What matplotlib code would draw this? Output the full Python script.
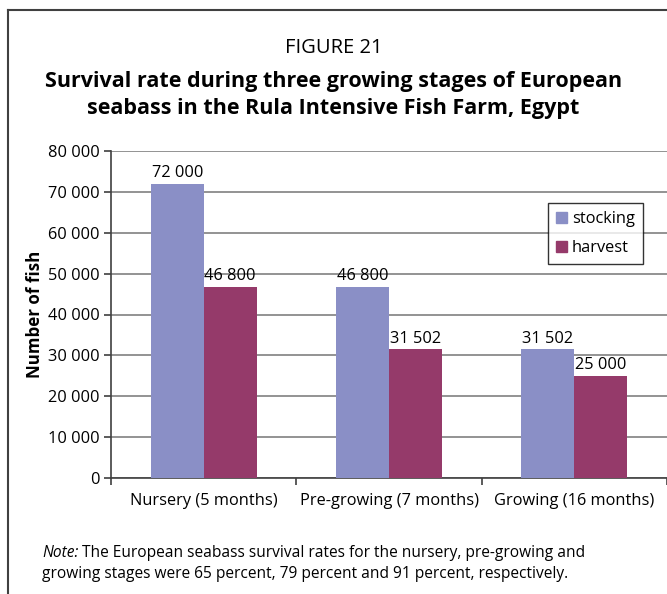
import matplotlib.pyplot as plt
import numpy as np
from matplotlib.lines import Line2D
from matplotlib.patches import Patch

stages = ["Nursery (5 months)", "Pre-growing (7 months)", "Growing (16 months)"]
stocking = [72000, 46800, 31502]
harvest = [46800, 31502, 25000]
series_names = ["stocking", "harvest"]
colors = ["#8A8FC6", "#953A6A"]

plt.rcParams['font.family'] = ['Open Sans', 'DejaVu Sans']


def fmt(v):
    return f"{int(v):,}".replace(",", " ")


def main():
    fig = plt.figure(figsize=(6.67, 5.94), dpi=100)
    ax = fig.add_axes([111 / 667, 1 - 478 / 594, 1 - 111 / 667, (478 - 151) / 594])

    x = np.arange(len(stages))
    w = 1 / 3.5
    for i, (vals, c) in enumerate(zip([stocking, harvest], colors)):
        pos = x + (i - 0.5) * w
        ax.bar(pos, vals, width=w, color=c, zorder=3)
        for p, v in zip(pos, vals):
            ax.text(p, v + 600, fmt(v), ha='center', va='bottom', fontsize=11.8, zorder=4)

    ax.set_xlim(-0.5, len(stages) - 0.5)
    ax.set_ylim(0, 80000)
    ax.set_yticks(range(0, 80001, 10000))
    ax.set_yticklabels([fmt(v) for v in range(0, 80001, 10000)], fontsize=11.8)
    ax.yaxis.grid(True, color="#808080", linewidth=1.2, zorder=0)
    ax.set_xticks(np.arange(-0.5, len(stages)), minor=False)
    ax.set_xticklabels([])
    ax.set_xticks(x, minor=True)
    ax.set_xticklabels(stages, minor=True, fontsize=11.8)
    ax.tick_params(axis='x', which='minor', length=0, pad=11)
    ax.tick_params(axis='x', which='major', length=5, width=1.2, color="#404040")
    ax.tick_params(axis='y', length=5, width=1.2, color="#404040", pad=3)
    for s in ['top', 'right']:
        ax.spines[s].set_visible(False)
    for s in ['left', 'bottom']:
        ax.spines[s].set_color("#404040")
        ax.spines[s].set_linewidth(1.2)
    ax.set_ylabel("Number of fish", fontsize=12.2, fontweight='bold', labelpad=3)

    handles = [Patch(color=c, label=n) for c, n in zip(colors, series_names)]
    leg = fig.legend(handles=handles, loc='upper left', bbox_to_anchor=(548 / 667, 1 - 203 / 594),
                     fontsize=11.8, frameon=True, fancybox=False, edgecolor='black',
                     handlelength=0.65, handleheight=0.65, handletextpad=0.3,
                     borderpad=0.5, labelspacing=0.8, borderaxespad=0)
    leg.get_frame().set_linewidth(1.0)

    fig.text(0.5, 1 - 48 / 594, "FIGURE 21", ha='center', va='center', fontsize=14.5)
    fig.text(0.5, 1 - 95 / 594, "Survival rate during three growing stages of European\n"
             "seabass in the Rula Intensive Fish Farm, Egypt",
             ha='center', va='center', fontsize=15.5, fontweight='bold', linespacing=1.38)

    note_y1 = 1 - 553 / 594
    note_y2 = 1 - 574 / 594
    note = fig.text(42 / 667, note_y1, "Note:", style='italic', fontsize=11.2, va='center')
    fig.canvas.draw()
    bb = note.get_window_extent().transformed(fig.transFigure.inverted())
    fig.text(bb.x1 + 4 / 667, note_y1,
             "The European seabass survival rates for the nursery, pre-growing and",
             fontsize=11.2, va='center')
    fig.text(42 / 667, note_y2,
             "growing stages were 65 percent, 79 percent and 91 percent, respectively.",
             fontsize=11.2, va='center')

    # outer frame of the figure box
    fig.add_artist(Line2D([8 / 667, 8 / 667], [0, 1 - 10 / 594], transform=fig.transFigure,
                          color="#404040", linewidth=1.5))
    fig.add_artist(Line2D([8 / 667, 1], [1 - 10 / 594, 1 - 10 / 594], transform=fig.transFigure,
                          color="#404040", linewidth=1.5))

    fig.savefig("out.png", dpi=100)


if __name__ == "__main__":
    main()
